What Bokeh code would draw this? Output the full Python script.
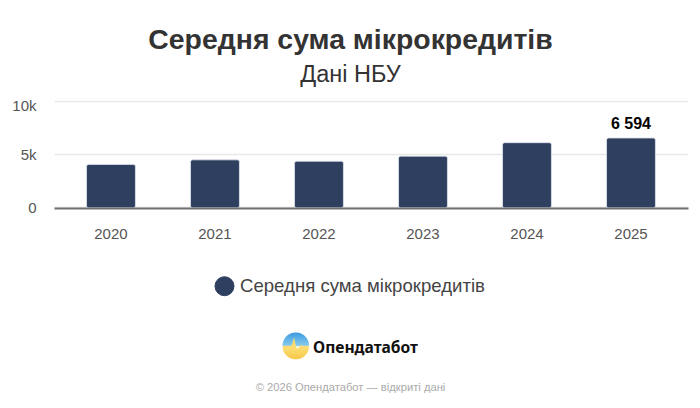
import math
from bokeh.embed import file_html
from bokeh.resources import INLINE
from bokeh.layouts import column
from bokeh.plotting import figure
from bokeh.models import (ColumnDataSource, FixedTicker, Label, Legend, LegendItem, Range1d)
from bokeh.core.properties import value

TITLE = "Середня сума мікрокредитів"
SUBTITLE = "Дані НБУ"
SERIES_NAME = "Середня сума мікрокредитів"
BRAND = "Опендатабот"
FOOTER = "© 2026 Опендатабот — відкриті дані"
years = ["2020", "2021", "2022", "2023", "2024", "2025"]
values = [4100, 4530, 4400, 4880, 6150, 6594]
y_ticks = [0, 5000, 10000]
y_tick_labels = {0: "0", 5000: "5k", 10000: "10k"}

BAR = "#2e3f5f"
FONT = "Liberation Sans"
W, H = 700, 408
Y1, Y2 = 96, 262  # page rows where the chart band begins and ends
L, R, T, B = 54, 688, 100, 208


def panel(y0, y1):
    # column() lines the frames up with the chart's frame, so the x range is in page pixels too
    f = figure(width=W, height=y1 - y0, output_backend="svg", toolbar_location=None,
               x_range=Range1d(L, R), y_range=Range1d(y1, y0), x_axis_type=None, y_axis_type=None,
               min_border=0, min_border_left=L, min_border_right=W - R, min_border_top=0, min_border_bottom=0)
    f.outline_line_color = None
    f.grid.visible = False
    return f


def label(f, text, x, y, size, color, style="normal", font=FONT):
    f.add_layout(Label(x=x, y=y, text=text, text_align="center", text_baseline="middle",
                       text_font=font, text_font_size=size, text_color=color, text_font_style=style))


head = panel(0, Y1)
label(head, TITLE, 350, 38, "28.4px", "#333333", "bold")
label(head, SUBTITLE, 350, 73, "23.5px", "#333333")

positions = list(range(len(years)))
p = figure(width=W, height=Y2 - Y1, output_backend="svg", toolbar_location=None,
           x_range=Range1d(-0.543, 5.553), y_range=Range1d(-60, 10130),
           min_border_left=L, min_border_right=W - R,
           min_border_top=T - Y1, min_border_bottom=Y2 - B)
p.outline_line_color = None

src = ColumnDataSource(dict(x=positions, y=values))
p.vbar(x="x", top="y", width=0.47, source=src, fill_color=BAR,
       line_color="#dfe4ee", line_width=0.8, border_radius=2)

lab = ColumnDataSource(dict(x=positions[-1:], y=values[-1:], t=["6 594"]))
p.text(x="x", y="y", text="t", source=lab, text_align="center", text_baseline="bottom",
       text_font=value(FONT), text_font_style="bold", text_font_size="16px",
       text_color="#000000", y_offset=-6)

p.xaxis.ticker = FixedTicker(ticks=positions)
p.xaxis.major_label_overrides = {i: y for i, y in enumerate(years)}
p.xaxis.major_label_text_font = FONT
p.xaxis.major_label_text_font_size = "15px"
p.xaxis.major_label_text_color = "#555555"
p.xaxis.major_label_standoff = 20
p.xaxis.major_tick_line_color = None
p.xaxis.major_tick_out = 0
p.xaxis.major_tick_in = 0
p.xaxis.minor_tick_line_color = None
p.xaxis.axis_line_color = "#707070"
p.xaxis.axis_line_width = 2

p.yaxis.ticker = FixedTicker(ticks=y_ticks)
p.yaxis.major_label_overrides = y_tick_labels
p.yaxis.major_label_text_font = FONT
p.yaxis.major_label_text_font_size = "15px"
p.yaxis.major_label_text_color = "#555555"
p.yaxis.major_label_standoff = 18
p.yaxis.major_tick_line_color = None
p.yaxis.major_tick_out = 0
p.yaxis.major_tick_in = 0
p.yaxis.minor_tick_line_color = None
p.yaxis.axis_line_color = None
p.xgrid.grid_line_color = None
p.ygrid.grid_line_color = "#e8e8e8"
p.ygrid.grid_line_width = 1.5
p.ygrid.ticker = FixedTicker(ticks=y_ticks)

foot = panel(Y2, H)
label(foot, FOOTER, 350, 386, "11.2px", "#aaaaaa")
label(foot, BRAND, 365, 346, "15.6px", "#111111", "bold", "Noto Sans")

# legend: the marker stands where the legend's own small swatch is drawn
marker = foot.scatter(x=[224], y=[285.7], size=19, marker="circle", fill_color=BAR, line_color=BAR)
legend = Legend(items=[LegendItem(label=SERIES_NAME, renderers=[marker])],
                location=(162, 111), orientation="horizontal",
                glyph_width=16, glyph_height=16, label_standoff=8, padding=0, margin=0,
                border_line_color=None, background_fill_alpha=0,
                label_text_font=FONT, label_text_font_size="18.6px", label_text_color="#444444")
foot.add_layout(legend, "center")

# logo: a round badge, blue above and yellow below a pulse-shaped boundary
cx, cy, r = 295.3, 345.3, 13


def chord(v0, v1):
    a0, a1 = math.asin(v0 / r), math.asin(v1 / r)
    angs = [a0 + (a1 - a0) * k / 4 for k in range(5)]
    return ([cx + r * math.cos(a) for a in angs] + [cx - r * math.cos(a) for a in reversed(angs)],
            [cy + r * math.sin(a) for a in angs] + [cy + r * math.sin(a) for a in reversed(angs)])


def mix(c0, c1, t):
    return "#%02x%02x%02x" % tuple(int(c0[j] + (c1[j] - c0[j]) * t) for j in range(3))


n = 13
pxs, pys, cols = [], [], []
for i in range(n):
    xs, ys = chord(-r + r * i / n, -r + r * (i + 1) / n)
    pxs.append(xs); pys.append(ys)
    cols.append(mix((50, 150, 225), (130, 200, 235), (i + 0.5) / n))
foot.patches(pxs, pys, fill_color=cols, line_color=cols, line_width=0.5)

pulse = [(-5, 0.5), (-3.5, -1.5), (-1.8, -7.5), (-0.5, -1), (1, 3), (2.5, 2.5), (5, -0.5), (7, 0.5)]
arc = [math.pi * (1 - k / 32) for k in range(33)]
yx = [cx + r * math.cos(a) for a in arc] + [cx + d[0] for d in reversed(pulse)]
yy = [cy + 0.3 + r * math.sin(a) for a in arc] + [cy + d[1] for d in reversed(pulse)]
foot.patch(yx, yy, fill_color="#fbdc6e", line_color="#fbdc6e", line_width=0.5)

pxs, pys, cols = [], [], []
for i in range(9):
    xs, ys = chord(4 + 9 * i / 9, 4 + 9 * (i + 1) / 9)
    pxs.append(xs); pys.append(ys)
    cols.append(mix((251, 220, 110), (248, 200, 75), (i + 0.5) / 9))
foot.patches(pxs, pys, fill_color=cols, line_color=cols, line_width=0.5)

page = column(head, p, foot, spacing=0)
out = open("out.html", "w")
out.write(file_html(page, INLINE))
out.close()
